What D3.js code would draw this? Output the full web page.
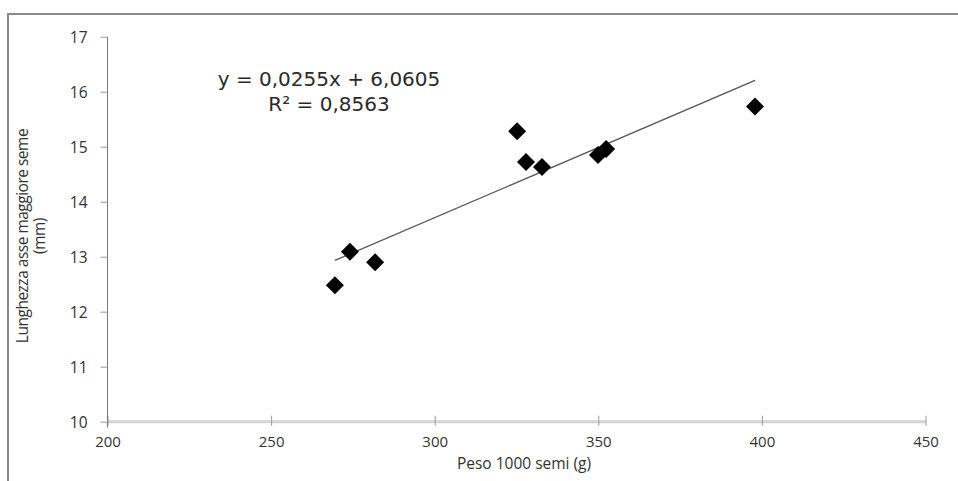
<!DOCTYPE html>
<html><head><meta charset="utf-8">
<script src="https://cdn.jsdelivr.net/npm/d3@7"></script>
<style>html,body{margin:0;padding:0;background:#fff;overflow:hidden}</style>
</head><body>
<svg id="c" width="958" height="481"></svg>
<script>
const pesoSemi = [269.5, 274.1, 281.8, 325.2, 327.9, 332.8, 349.9, 352.4, 397.9];
const lunghezzaSeme = [12.48, 13.09, 12.90, 15.28, 14.72, 14.63, 14.85, 14.96, 15.73];
const xTicks = [200, 250, 300, 350, 400, 450];
const yTicks = [10, 11, 12, 13, 14, 15, 16, 17];
const trendCoef = [0.0255, 6.0605];
const equationLines = ["y = 0,0255x + 6,0605", "R² = 0,8563"];
const xTitle = "Peso 1000 semi (g)";
const yTitleLines = ["Lunghezza asse maggiore seme", "(mm)"];

const svg = d3.select("#c");
const x = d3.scaleLinear().domain([200, 450]).range([107.5, 925.5]);
const y = d3.scaleLinear().domain([10, 17]).range([421.7, 36.7]);

// outer border (top and left)
svg.append("path").attr("d", "M8,958 L8,14 L958,14")
  .attr("fill", "none").attr("stroke", "#8a8a8a").attr("stroke-width", 2);

// x axis baseline
svg.append("line").attr("x1", x(200)).attr("x2", x(450)).attr("y1", y(10)).attr("y2", y(10))
  .attr("stroke", "#d4d4d4").attr("stroke-width", 3);

const xAxis = d3.axisBottom(x).tickValues(xTicks).tickSize(0).tickPadding(0).tickFormat(d3.format("d"));
const gx = svg.append("g").attr("transform", `translate(0,${y(10)})`).call(xAxis);
gx.select(".domain").remove();
gx.selectAll(".tick line").attr("y1", -6).attr("y2", 4).attr("stroke", "#9a9a9a");
gx.selectAll(".tick text").attr("y", 25).attr("dy", 0)
  .attr("font-family", "'Open Sans', sans-serif").attr("font-size", 15).attr("fill", "#333");

const yAxis = d3.axisLeft(y).tickValues(yTicks).tickSize(7).tickPadding(0).tickFormat(d3.format("d"));
const gy = svg.append("g").attr("transform", `translate(${x(200)},0)`).call(yAxis);
gy.select(".domain").attr("d", `M0,${y(17)}V${y(10) + 6}`).attr("stroke", "#7a7a7a");
gy.selectAll(".tick line").attr("stroke", "#9a9a9a");
gy.selectAll(".tick text").attr("x", -20).attr("dy", "0.36em")
  .attr("font-family", "'Open Sans', sans-serif").attr("font-size", 15.5).attr("fill", "#333");

// trendline
const xMin = d3.min(pesoSemi), xMax = d3.max(pesoSemi);
const f = v => trendCoef[0] * v + trendCoef[1];
svg.append("line")
  .attr("x1", x(xMin)).attr("y1", y(f(xMin)))
  .attr("x2", x(xMax)).attr("y2", y(f(xMax)))
  .attr("stroke", "#555").attr("stroke-width", 1.3);

// diamonds
const pts = pesoSemi.map((v, i) => [v, lunghezzaSeme[i]]);
svg.append("g").selectAll("path").data(pts).join("path")
  .attr("transform", d => `translate(${x(d[0])},${y(d[1])})`)
  .attr("d", "M0,-9L9,0L0,9L-9,0Z")
  .attr("fill", "#000");

// equation
svg.append("g").selectAll("text").data(equationLines).join("text")
  .attr("x", 329).attr("y", (d, i) => 86 + i * 25)
  .attr("text-anchor", "middle")
  .attr("font-family", "'DejaVu Sans', sans-serif").attr("font-size", 20).attr("fill", "#2a2a2a")
  .text(d => d);

// x title
svg.append("text").attr("x", 524).attr("y", 469).attr("text-anchor", "middle")
  .attr("font-family", "'Open Sans', sans-serif").attr("font-size", 15.5).attr("fill", "#333")
  .text(xTitle);

// y title
svg.append("g").attr("transform", "translate(0,236) rotate(-90)")
  .selectAll("text").data(yTitleLines).join("text")
  .attr("x", 0).attr("y", (d, i) => 28 + i * 17)
  .attr("text-anchor", "middle")
  .attr("font-family", "'Open Sans', sans-serif").attr("font-size", 15.5).attr("fill", "#333")
  .attr("letter-spacing", -0.5)
  .text(d => d);
</script>
</body></html>
